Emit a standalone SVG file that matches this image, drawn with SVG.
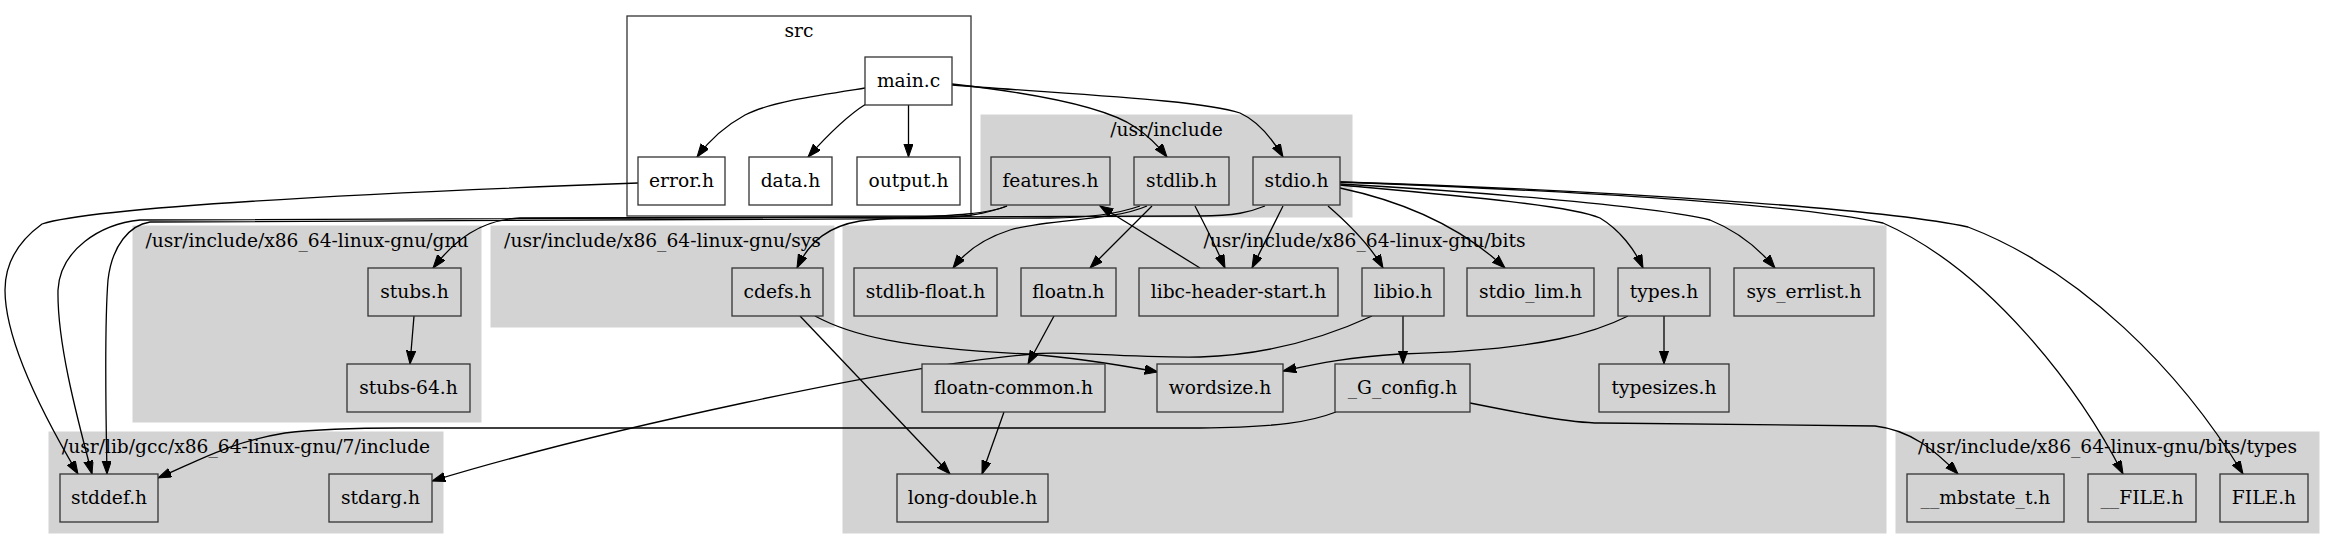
<svg xmlns="http://www.w3.org/2000/svg" width="2335" height="549" viewBox="0 0 2335 549">
<style>
text{font-family:"DejaVu Serif","Liberation Serif",serif;font-size:18.67px;fill:#000}
.n text,.lbl{text-anchor:middle}
.n rect{fill:#d3d3d3;stroke:#333;stroke-width:1.3}
.w rect{fill:#fff}
.cl{fill:#d3d3d3;stroke:#d3d3d3}
.e path{fill:none;stroke:#000;stroke-width:1.3;marker-end:url(#ah)}
</style>
<defs>
<marker id="ah" markerUnits="userSpaceOnUse" markerWidth="14" markerHeight="10" refX="13.3" refY="4.67" orient="auto">
<path d="M0,0 L13.3,4.67 L0,9.33 z" fill="#000" stroke="#000" stroke-width="1"/>
</marker>
</defs>
<rect width="2335" height="549" fill="#fff"/>
<g id="clusters">
<rect x="627" y="16" width="344" height="200" fill="#fff" stroke="#333" stroke-width="1.3"/>
<text class="lbl" x="799" y="37">src</text>
<rect class="cl" x="981" y="115" width="371" height="102"/>
<text class="lbl" x="1166.5" y="136">/usr/include</text>
<rect class="cl" x="133" y="226" width="348" height="196"/>
<text class="lbl" x="307" y="247">/usr/include/x86_64-linux-gnu/gnu</text>
<rect class="cl" x="491" y="226" width="343" height="101"/>
<text class="lbl" x="662.5" y="247">/usr/include/x86_64-linux-gnu/sys</text>
<rect class="cl" x="49" y="432" width="394" height="101"/>
<text class="lbl" x="246" y="453">/usr/lib/gcc/x86_64-linux-gnu/7/include</text>
<rect class="cl" x="843" y="226" width="1043" height="307"/>
<text class="lbl" x="1364.5" y="247">/usr/include/x86_64-linux-gnu/bits</text>
<rect class="cl" x="1896" y="432" width="423" height="101"/>
<text class="lbl" x="2107.5" y="453">/usr/include/x86_64-linux-gnu/bits/types</text>
</g>
<g id="edges" class="e">
<path d="M865,88 C820,95 770,102 745,115 C725,126 708,142 697,157"/>
<path d="M866,104 C845,117 825,138 808,157"/>
<path d="M908.5,105 L908.5,157"/>
<path d="M952,84 C1050,95 1110,110 1135,127 C1150,137 1160,148 1167,157"/>
<path d="M952,85 C1080,95 1200,100 1240,113 C1260,122 1273,140 1283,157"/>
<path d="M638,183 C450,190 100,205 42,224 C20,240 5,262 5,290 C5,340 40,410 78,474"/>
<path d="M1265,206 C1250,212 1235,216 1200,216 L140,220 C100,224 60,250 58,290 C57,340 75,410 92,474"/>
<path d="M1140,206 C1120,213 1090,218 1050,218 L150,222 C130,225 112,245 108,280 C104,330 106,420 107,474"/>
<path d="M1007,206 C990,212 975,216 950,217 L520,218 C480,220 455,240 433,268"/>
<path d="M1007,206 C980,218 900,216 860,221 C830,226 810,240 797,268"/>
<path d="M1200,268 L1100,206"/>
<path d="M1147,206 C1110,222 1050,218 1010,230 C985,238 965,252 953,268"/>
<path d="M1152,206 L1090,268"/>
<path d="M1195,206 C1205,225 1215,245 1225,268"/>
<path d="M1283,206 L1252,268"/>
<path d="M1328,206 C1350,225 1370,245 1383,268"/>
<path d="M1340,188 C1420,205 1470,235 1505,268"/>
<path d="M1340,185 C1450,195 1570,205 1600,218 C1620,230 1635,250 1643,268"/>
<path d="M1340,184 C1450,190 1650,205 1710,220 C1740,232 1760,250 1775,268"/>
<path d="M1340,182 C1600,192 1800,205 1883,223 C1990,270 2080,390 2123,474"/>
<path d="M1340,182 C1600,190 1880,208 1968,227 C2080,270 2180,370 2243,474"/>
<path d="M414,316 L410,364"/>
<path d="M800,316 L950,474"/>
<path d="M815,316 C850,335 900,348 1027,354 C1080,358 1120,365 1158,372"/>
<path d="M1628,316 C1600,330 1550,350 1400,354 C1350,357 1320,363 1283,371"/>
<path d="M1372,316 C1320,340 1260,355 1200,357 C1120,358 1060,350 1033,354 C900,365 600,430 432,481"/>
<path d="M1054,316 L1028,364"/>
<path d="M1004,412 L982,474"/>
<path d="M1403,316 L1403,364"/>
<path d="M1664,316 L1664,364"/>
<path d="M1336,412 C1310,422 1280,427 1200,428 L400,428 C350,428 310,430 285,433 C230,442 200,460 158,478"/>
<path d="M1470,403 C1520,413 1570,423 1600,423 L1875,426 C1910,430 1935,450 1958,474"/>
</g>
<g id="n_main" class="n w"><rect x="865" y="57" width="87" height="48"/><text x="908.5" y="87">main.c</text></g>
<g id="n_error" class="n w"><rect x="638" y="157" width="87" height="48"/><text x="681.5" y="187">error.h</text></g>
<g id="n_data" class="n w"><rect x="749" y="157" width="83" height="48"/><text x="790.5" y="187">data.h</text></g>
<g id="n_output" class="n w"><rect x="857" y="157" width="103" height="48"/><text x="908.5" y="187">output.h</text></g>
<g id="n_features" class="n"><rect x="991" y="157" width="119" height="48"/><text x="1050.5" y="187">features.h</text></g>
<g id="n_stdlib" class="n"><rect x="1134" y="157" width="95" height="48"/><text x="1181.5" y="187">stdlib.h</text></g>
<g id="n_stdio" class="n"><rect x="1253" y="157" width="87" height="48"/><text x="1296.5" y="187">stdio.h</text></g>
<g id="n_stubs" class="n"><rect x="368" y="268" width="93" height="48"/><text x="414.5" y="298">stubs.h</text></g>
<g id="n_stubs64" class="n"><rect x="347" y="364" width="123" height="48"/><text x="408.5" y="394">stubs-64.h</text></g>
<g id="n_cdefs" class="n"><rect x="732" y="268" width="91" height="48"/><text x="777.5" y="298">cdefs.h</text></g>
<g id="n_stddef" class="n"><rect x="60" y="474" width="98" height="48"/><text x="109" y="504">stddef.h</text></g>
<g id="n_stdarg" class="n"><rect x="329" y="474" width="103" height="48"/><text x="380.5" y="504">stdarg.h</text></g>
<g id="n_stdlibfloat" class="n"><rect x="854" y="268" width="143" height="48"/><text x="925.5" y="298">stdlib-float.h</text></g>
<g id="n_floatn" class="n"><rect x="1021" y="268" width="95" height="48"/><text x="1068.5" y="298">floatn.h</text></g>
<g id="n_libc" class="n"><rect x="1139" y="268" width="199" height="48"/><text x="1238.5" y="298">libc-header-start.h</text></g>
<g id="n_libio" class="n"><rect x="1362" y="268" width="82" height="48"/><text x="1403" y="298">libio.h</text></g>
<g id="n_stdiolim" class="n"><rect x="1467" y="268" width="127" height="48"/><text x="1530.5" y="298">stdio_lim.h</text></g>
<g id="n_types" class="n"><rect x="1618" y="268" width="92" height="48"/><text x="1664" y="298">types.h</text></g>
<g id="n_syserr" class="n"><rect x="1734" y="268" width="140" height="48"/><text x="1804" y="298">sys_errlist.h</text></g>
<g id="n_floatncommon" class="n"><rect x="922" y="364" width="183" height="48"/><text x="1013.5" y="394">floatn-common.h</text></g>
<g id="n_wordsize" class="n"><rect x="1157" y="364" width="126" height="48"/><text x="1220" y="394">wordsize.h</text></g>
<g id="n_gconfig" class="n"><rect x="1335" y="364" width="135" height="48"/><text x="1402.5" y="394">_G_config.h</text></g>
<g id="n_typesizes" class="n"><rect x="1599" y="364" width="130" height="48"/><text x="1664" y="394">typesizes.h</text></g>
<g id="n_longdouble" class="n"><rect x="897" y="474" width="151" height="48"/><text x="972.5" y="504">long-double.h</text></g>
<g id="n_mbstate" class="n"><rect x="1907" y="474" width="157" height="48"/><text x="1985.5" y="504">__mbstate_t.h</text></g>
<g id="n__file" class="n"><rect x="2088" y="474" width="108" height="48"/><text x="2142" y="504">__FILE.h</text></g>
<g id="n_file" class="n"><rect x="2220" y="474" width="88" height="48"/><text x="2264" y="504">FILE.h</text></g>
</svg>
